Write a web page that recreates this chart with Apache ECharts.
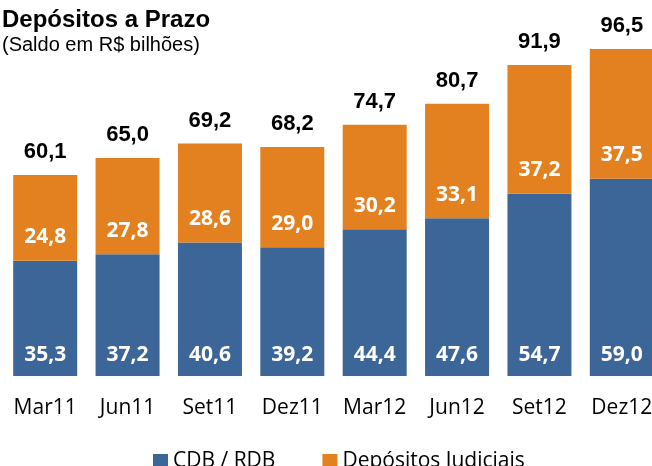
<!DOCTYPE html>
<html>
<head>
<meta charset="utf-8">
<script src="https://cdn.jsdelivr.net/npm/echarts@6/dist/echarts.min.js"></script>
<style>
  html, body { margin: 0; padding: 0; background: #fff; overflow: hidden; }
  /* the last bar runs off the right edge in the original, so the canvas is a bit wider than the window */
  #chart { width: 663px; height: 466px; }
</style>
</head>
<body>
<div id="chart"></div>
<script>
  var categories = ['Mar11', 'Jun11', 'Set11', 'Dez11', 'Mar12', 'Jun12', 'Set12', 'Dez12'];
  var cdbRdb = [35.3, 37.2, 40.6, 39.2, 44.4, 47.6, 54.7, 59.0];
  var judiciais = [24.8, 27.8, 28.6, 29.0, 30.2, 33.1, 37.2, 37.5];
  var totais = [60.1, 65.0, 69.2, 68.2, 74.7, 80.7, 91.9, 96.5];

  function br(v) {
    return v.toFixed(1).replace('.', ',');
  }

  function insideLabel(dist) {
    return {
      show: true,
      position: 'insideBottom',
      distance: dist,
      color: '#fff',
      fontFamily: 'Open Sans',
      fontWeight: 'bold',
      fontSize: 21,
      formatter: function (p) { return br(p.value); }
    };
  }

  var chart = echarts.init(document.getElementById('chart'));
  chart.setOption({
    animation: false,
    title: [
      { text: 'Depósitos a Prazo', left: 2, top: 8, padding: 0,
        textStyle: { fontFamily: 'Liberation Sans', fontWeight: 'bold', fontSize: 24, color: '#000' } },
      { text: '(Saldo em R$ bilhões)', left: 2, top: 35, padding: 0,
        textStyle: { fontFamily: 'Liberation Sans', fontWeight: 'normal', fontSize: 20, color: '#000' } }
    ],
    legend: {
      data: ['CDB / RDB', 'Depósitos Judiciais'],
      left: 153, top: 451, padding: 0,
      itemWidth: 15, itemHeight: 15, itemGap: 47,
      icon: 'rect',
      textStyle: { fontFamily: 'Open Sans', fontSize: 21, color: '#000' }
    },
    grid: { left: 4, top: 37, right: 0, height: 339 },
    xAxis: {
      type: 'category',
      data: categories,
      axisLine: { show: false },
      axisTick: { show: false },
      axisLabel: { margin: 22, color: '#000', fontFamily: 'Open Sans', fontSize: 21 }
    },
    yAxis: {
      type: 'value', min: 2, max: 100,
      show: false, splitLine: { show: false }
    },
    series: [
      { name: 'CDB / RDB', type: 'bar', stack: 'a', data: cdbRdb, barWidth: 64,
        itemStyle: { color: '#3D6698' }, label: insideLabel(10) },
      { name: 'Depósitos Judiciais', type: 'bar', stack: 'a', data: judiciais, barWidth: 64,
        itemStyle: { color: '#E3801F' }, label: insideLabel(13) },
      { name: 'Total', type: 'bar', data: totais, barWidth: 64, barGap: '-100%', z: 1,
        itemStyle: { color: 'rgba(0,0,0,0)' }, silent: true,
        label: { show: true, position: 'top', distance: 12, color: '#000',
          fontFamily: 'Liberation Sans', fontWeight: 'bold', fontSize: 22,
          formatter: function (p) { return br(p.value); } } }
    ]
  });
</script>
</body>
</html>
